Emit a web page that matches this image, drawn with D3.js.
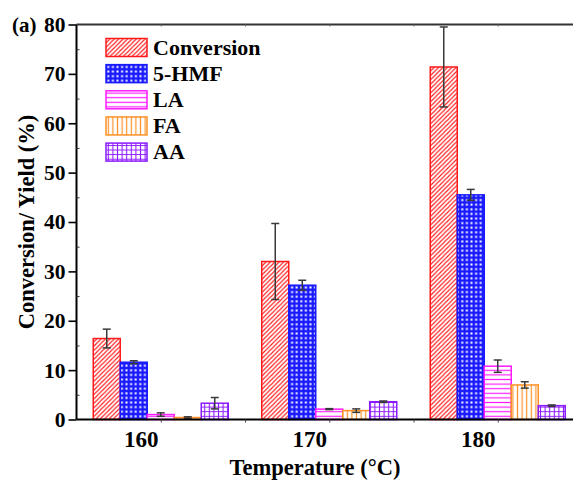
<!DOCTYPE html>
<html>
<head>
<meta charset="utf-8">
<script src="https://cdn.jsdelivr.net/npm/d3@7"></script>
<style>
  html, body { margin: 0; padding: 0; background: #fff; }
  svg { display: block; font-family: "Liberation Serif", "Times New Roman", serif; font-weight: bold; }
</style>
</head>
<body>
<svg id="chart" width="573" height="480"></svg>
<script>
// Reaction temperatures (°C)
const temperatures = [160, 170, 180];
// Product series
const seriesNames = ["Conversion", "5-HMF", "LA", "FA", "AA"];
// Mean values (%) per temperature
const conversion = [16.4, 32.0, 71.4];
const hmf        = [11.6, 27.2, 45.5];
const la         = [1.0, 2.1, 10.8];
const fa         = [0.4, 1.8, 7.0];
const aa         = [3.3, 3.6, 2.8];
// Error bar half-widths (%)
const conversionErr = [1.9, 7.7, 8.1];
const hmfErr        = [0.3, 1.0, 1.1];
const laErr         = [0.35, 0.1, 1.25];
const faErr         = [0.15, 0.35, 0.65];
const aaErr         = [1.15, 0.15, 0.15];
// Axis ticks
const yTicks = [0, 10, 20, 30, 40, 50, 60, 70, 80];
const xTicks = [160, 165, 170, 175, 180];

const values = [conversion, hmf, la, fa, aa];
const errors = [conversionErr, hmfErr, laErr, faErr, aaErr];
const colors = ["#ff1a1a", "#1a1aff", "#ff1aff", "#ff9126", "#8c1aff"];
const patternIds = ["pConv", "pHmf", "pLa", "pFa", "pAa"];

const svg = d3.select("#chart");
svg.append("rect").attr("width", 573).attr("height", 480).attr("fill", "#fff");

// ---- fill patterns ----
const defs = svg.append("defs");
// diagonal hatch
const p0 = defs.append("pattern").attr("id", "pConv").attr("patternUnits", "userSpaceOnUse")
  .attr("width", 4.4).attr("height", 4.4);
p0.append("rect").attr("width", 4.4).attr("height", 4.4).attr("fill", "#fff");
p0.append("path").attr("d", "M-1,5.4 L5.4,-1 M-1,1 L1,-1 M3.4,5.4 L5.4,3.4")
  .attr("stroke", colors[0]).attr("stroke-width", 1.1);
// dense cross-hatch with white holes
const p1 = defs.append("pattern").attr("id", "pHmf").attr("patternUnits", "userSpaceOnUse")
  .attr("width", 4.6).attr("height", 4.6);
p1.append("rect").attr("width", 4.6).attr("height", 4.6).attr("fill", colors[1]);
p1.append("rect").attr("x", 1.3).attr("y", 1.3).attr("width", 2).attr("height", 2).attr("fill", "#fff");
// horizontal lines
const p2 = defs.append("pattern").attr("id", "pLa").attr("patternUnits", "userSpaceOnUse")
  .attr("width", 4.6).attr("height", 4.6);
p2.append("rect").attr("width", 4.6).attr("height", 4.6).attr("fill", "#fff");
p2.append("line").attr("x1", 0).attr("x2", 4.6).attr("y1", 2.3).attr("y2", 2.3)
  .attr("stroke", colors[2]).attr("stroke-width", 1.2);
// vertical lines
const p3 = defs.append("pattern").attr("id", "pFa").attr("patternUnits", "userSpaceOnUse")
  .attr("width", 4.6).attr("height", 4.6);
p3.append("rect").attr("width", 4.6).attr("height", 4.6).attr("fill", "#fff");
p3.append("line").attr("y1", 0).attr("y2", 4.6).attr("x1", 2.3).attr("x2", 2.3)
  .attr("stroke", colors[3]).attr("stroke-width", 1.2);
// square grid
const p4 = defs.append("pattern").attr("id", "pAa").attr("patternUnits", "userSpaceOnUse")
  .attr("width", 4.6).attr("height", 4.6);
p4.append("rect").attr("width", 4.6).attr("height", 4.6).attr("fill", "#fff");
p4.append("path").attr("d", "M0,2.3 H4.6 M2.3,0 V4.6")
  .attr("stroke", colors[4]).attr("stroke-width", 1.1);

// ---- scales ----
const x = d3.scaleLinear().domain([155, 185]).range([76.5, 582]);
const y = d3.scaleLinear().domain([0, 80]).range([419.5, 24.5]);
const inner = d3.scaleBand().domain(seriesNames).range([-67.5, 67.5]).padding(0);

// ---- bars ----
const barData = [];
temperatures.forEach((t, i) => {
  seriesNames.forEach((s, j) => {
    barData.push({ t, s, j, v: values[j][i], e: errors[j][i] });
  });
});

svg.append("g").selectAll("rect").data(barData).join("rect")
  .attr("x", d => x(d.t) + inner(d.s))
  .attr("y", d => y(d.v))
  .attr("width", inner.bandwidth())
  .attr("height", d => y(0) - y(d.v))
  .attr("fill", d => `url(#${patternIds[d.j]})`)
  .attr("stroke", d => colors[d.j])
  .attr("stroke-width", 1.5);

// ---- error bars ----
const eg = svg.append("g").attr("stroke", "#3a3a3a").attr("stroke-width", 1.5).attr("fill", "none");
barData.forEach(d => {
  const cx = x(d.t) + inner(d.s) + inner.bandwidth() / 2;
  const top = y(d.v + d.e), bot = y(d.v - d.e);
  eg.append("line").attr("x1", cx).attr("x2", cx).attr("y1", top).attr("y2", bot);
  eg.append("line").attr("x1", cx - 4).attr("x2", cx + 4).attr("y1", top).attr("y2", top);
  eg.append("line").attr("x1", cx - 4).attr("x2", cx + 4).attr("y1", bot).attr("y2", bot);
});

// ---- axes ----
const yAxis = svg.append("g").attr("transform", `translate(${x(155)},0)`)
  .call(d3.axisLeft(y).tickValues(yTicks).tickSize(8).tickPadding(3).tickFormat(d3.format("d")));
yAxis.select(".domain").attr("stroke", "#000").attr("stroke-width", 2).attr("d", `M0,${y(0)}V${y(80)}`);
yAxis.selectAll(".tick line").attr("stroke", "#000").attr("stroke-width", 1.6);
yAxis.selectAll("text").attr("font-size", 21.5).attr("font-family", "Liberation Serif").attr("font-weight", "bold").attr("fill", "#000");

// minor ticks on the inside of the y axis
svg.append("g").attr("transform", `translate(${x(155)},0)`)
  .call(d3.axisRight(y).tickValues(d3.range(5, 80, 10)).tickSize(3).tickFormat(""))
  .call(g => g.select(".domain").remove())
  .selectAll("line").attr("stroke", "#333").attr("stroke-width", 1);

const xAxis = svg.append("g").attr("transform", `translate(0,${y(0)})`)
  .call(d3.axisBottom(x).tickValues(xTicks).tickSize(3).tickPadding(8)
    .tickFormat(d => temperatures.includes(d) ? d : ""));
xAxis.select(".domain").attr("stroke", "#000").attr("stroke-width", 2).attr("d", `M${x(155)},0H573`);
xAxis.selectAll(".tick line").attr("stroke", "#444").attr("stroke-width", 1);
xAxis.selectAll("text").attr("font-size", 23).attr("font-family", "Liberation Serif")
  .attr("font-weight", "bold").attr("fill", "#000").attr("dx", -20);

const topAxis = svg.append("g").attr("transform", `translate(0,${y(80)})`)
  .call(d3.axisBottom(x).tickValues(xTicks).tickSize(2).tickFormat(""));
topAxis.select(".domain").attr("stroke", "#333").attr("stroke-width", 2).attr("d", `M${x(155)},0H573`);
topAxis.selectAll(".tick line").attr("stroke", "#666").attr("stroke-width", 1);

// ---- titles ----
svg.append("text").attr("x", 315).attr("y", 475).attr("text-anchor", "middle")
  .attr("font-size", 22.5).text("Temperature (°C)");
svg.append("text").attr("transform", "translate(34,222) rotate(-90)").attr("text-anchor", "middle")
  .attr("font-size", 22.5).text("Conversion/ Yield (%)");
svg.append("text").attr("x", 12).attr("y", 31.5).attr("font-size", 21).text("(a)");

// ---- legend ----
const legend = svg.append("g").attr("transform", "translate(106,38.5)");
seriesNames.forEach((s, j) => {
  const row = legend.append("g").attr("transform", `translate(0,${j * 26.15})`);
  row.append("rect").attr("width", 41).attr("height", 18)
    .attr("fill", `url(#${patternIds[j]})`).attr("stroke", colors[j]).attr("stroke-width", 1.5);
  row.append("text").attr("x", 47).attr("y", 16).attr("font-size", 22).text(s);
});
</script>
</body>
</html>
